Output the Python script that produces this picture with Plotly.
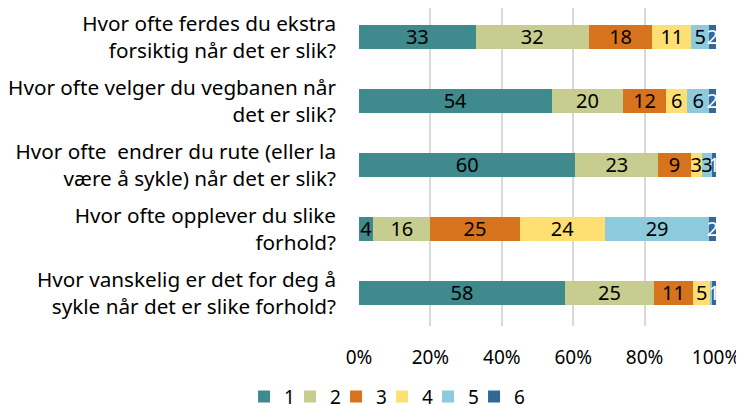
import plotly.graph_objects as go

questions = [
    "Hvor ofte ferdes du ekstra<br>forsiktig når det er slik?",
    "Hvor ofte velger du vegbanen når<br>det er slik?",
    "Hvor ofte  endrer du rute (eller la<br>være å sykle) når det er slik?",
    "Hvor ofte opplever du slike<br>forhold?",
    "Hvor vanskelig er det for deg å<br>sykle når det er slike forhold?",
]
levels = ["1", "2", "3", "4", "5", "6"]
values = {
    "1": [33, 54, 60, 4, 58],
    "2": [32, 20, 23, 16, 25],
    "3": [18, 12, 9, 25, 11],
    "4": [11, 6, 3, 24, 5],
    "5": [5, 6, 3, 29, 0.5],
    "6": [2, 2, 1, 2, 1],
}
labels = {
    "1": ["33", "54", "60", "4", "58"],
    "2": ["32", "20", "23", "16", "25"],
    "3": ["18", "12", "9", "25", "11"],
    "4": ["11", "6", "3", "24", "5"],
    "5": ["5", "6", "3", "29", ""],
    "6": ["2", "2", "1", "2", "1"],
}
colors = {"1": "#3E8A8C", "2": "#C6CD8F", "3": "#D8731D", "4": "#FFDF72",
          "5": "#8DCADB", "6": "#336699"}
textcolors = {"1": "black", "2": "black", "3": "black", "4": "black",
              "5": "black", "6": "white"}

FONT = "Noto Sans"
fig = go.Figure()
for lv in levels:
    fig.add_trace(go.Bar(
        y=list(range(len(questions))), x=values[lv], name=lv, orientation="h",
        marker=dict(color=colors[lv], line=dict(width=0)),
        text=labels[lv], textposition="inside", insidetextanchor="middle",
        textangle=0,
        textfont=dict(color=textcolors[lv], size=20, family=FONT),
        hoverinfo="skip",
    ))
# blank spacer legend entry so the last legend label is not clipped
fig.add_trace(go.Bar(y=[None], x=[None], name=" ", orientation="h", showlegend=True,
                     marker=dict(color="rgba(0,0,0,0)",
                                 line=dict(width=0, color="rgba(0,0,0,0)")),
                     hoverinfo="skip"))

fig.update_layout(
    barmode="stack", barnorm="percent", bargap=0.61,
    width=744, height=397,
    margin=dict(l=351, r=36, t=0, b=79, autoexpand=False),
    paper_bgcolor="white", plot_bgcolor="white",
    font=dict(family=FONT, size=20, color="black"),
    uniformtext=dict(minsize=20, mode="show"),
    showlegend=True,
    legend=dict(orientation="h", x=-0.322, xanchor="left", y=-0.222, yanchor="middle",
                font=dict(size=19), traceorder="normal", itemwidth=30,
                entrywidth=1, entrywidthmode="pixels", bgcolor="rgba(0,0,0,0)"),
)
fig.update_xaxes(range=[0, 100], tickvals=[0, 20, 40, 60, 80, 100],
                 ticktext=["0%", "20%", "40%", "60%", "80%", "100%"],
                 showgrid=True, gridcolor="#D9D9D9", gridwidth=1.5, zeroline=False,
                 tickfont=dict(size=19), ticklabelstandoff=18, showline=False,
                 automargin=False)
fig.update_yaxes(range=[4.516, -0.453], tickmode="array",
                 tickvals=list(range(len(questions))), ticktext=questions,
                 tickfont=dict(size=20.7), ticklabelstandoff=22,
                 showgrid=False, zeroline=False, automargin=False)

fig.write_html("out.html")
